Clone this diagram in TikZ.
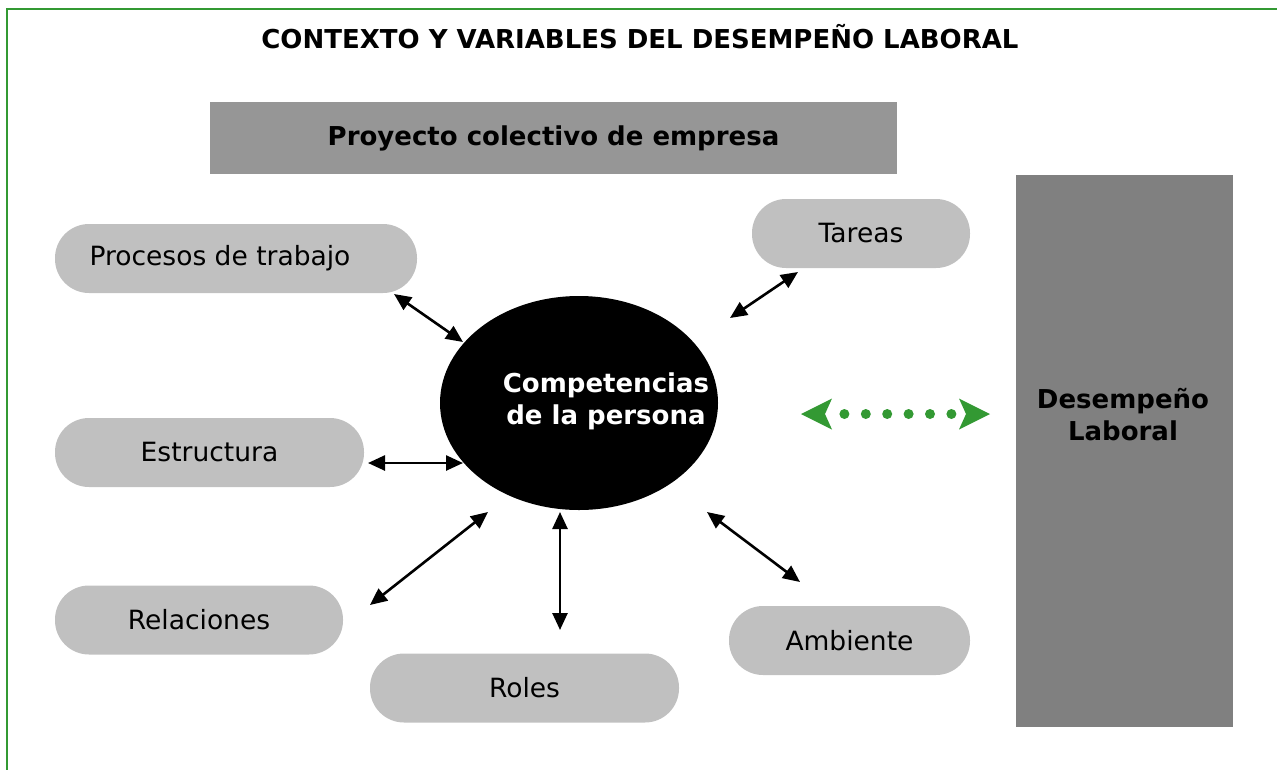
\documentclass[tikz,border=0pt]{standalone}
\usepackage{fontspec}
\setmainfont{DejaVu Sans}
\usepackage{tikz}
\usetikzlibrary{arrows.meta,shapes.geometric}

\definecolor{verde}{HTML}{339933}
\definecolor{gris claro}{HTML}{C0C0C0}
\definecolor{gris medio}{HTML}{969696}
\definecolor{gris oscuro}{HTML}{808080}

\begin{document}
\begin{tikzpicture}[x=1pt,y=-1pt,>={Triangle[length=17pt,width=15pt]},
  texto/.style={font=\fontsize{26.5}{32}\selectfont},
  negrita/.style={font=\fontsize{26}{32}\selectfont\bfseries},
  pill/.style={rectangle,rounded corners=34pt,fill=gris claro,minimum width=#1,
    minimum height=69pt,inner sep=0pt,texto},
  flecha/.style={<->,line width=2.6pt},
  puntos/.style={draw=verde,line width=10pt,line cap=round,
    dash pattern=on 0pt off 21.4pt,dash phase=2pt,
    {Stealth[length=31pt,width=31pt,inset=7pt,line width=0pt,fill=verde]}-{Stealth[length=31pt,width=31pt,inset=7pt,line width=0pt,fill=verde]}}]

  \useasboundingbox (0,0) rectangle (1277,769);
  % marco verde
  \draw[verde,line width=2.5pt] (7,775) -- (7,9) -- (1285,9);

  \node[negrita] (titulo) at (640,37) {CONTEXTO Y VARIABLES DEL DESEMPEÑO LABORAL};
  \node[fill=gris medio,minimum width=687pt,minimum height=72pt,inner sep=0pt,negrita] (proyecto) at (553.5,138) {Proyecto colectivo de empresa};
  \node[fill=gris oscuro,minimum width=217pt,minimum height=552pt,inner sep=0pt] (desempeno) at (1124.5,451) {};
  \node[negrita,align=center] (desempeno txt) at (1123,415) {Desempeño\\Laboral};

  \node[ellipse,fill=black,minimum width=278pt,minimum height=214pt,inner sep=0pt] (competencias) at (579,403) {};
  \node[negrita,text=white,align=center] (competencias txt) at (606,401) {Competencias\\de la persona};

  \node[pill=362pt] (procesos) at (236,258.5) {Procesos de trabajo\hspace*{32pt}};
  \node[pill=218pt] (tareas) at (861,233.5) {Tareas};
  \node[pill=309pt] (estructura) at (209.5,452.5) {Estructura};
  \node[pill=288pt] (relaciones) at (199,620) {Relaciones};
  \node[pill=309pt] (roles) at (524.5,688) {Roles};
  \node[pill=241pt] (ambiente) at (849.5,640.5) {Ambiente};

  % extremos de las flechas
  \coordinate (p1) at (394,294);  \coordinate (p2) at (463,342);
  \coordinate (t1) at (730,318);  \coordinate (t2) at (798,272);
  \coordinate (e1) at (368,463);  \coordinate (e2) at (463,463);
  \coordinate (r1) at (370,605);  \coordinate (r2) at (488,512);
  \coordinate (o1) at (560,512);  \coordinate (o2) at (560,630);
  \coordinate (a1) at (707,512);  \coordinate (a2) at (800,582);
  \coordinate (d1) at (801,414);  \coordinate (d2) at (990,414);

  \path[flecha]
    (p1) edge (p2)
    (t1) edge (t2)
    (e1) edge (e2)
    (r1) edge (r2)
    (o1) edge (o2)
    (a1) edge (a2);
  \draw[puntos] (d1) -- (d2);
\end{tikzpicture}
\end{document}
